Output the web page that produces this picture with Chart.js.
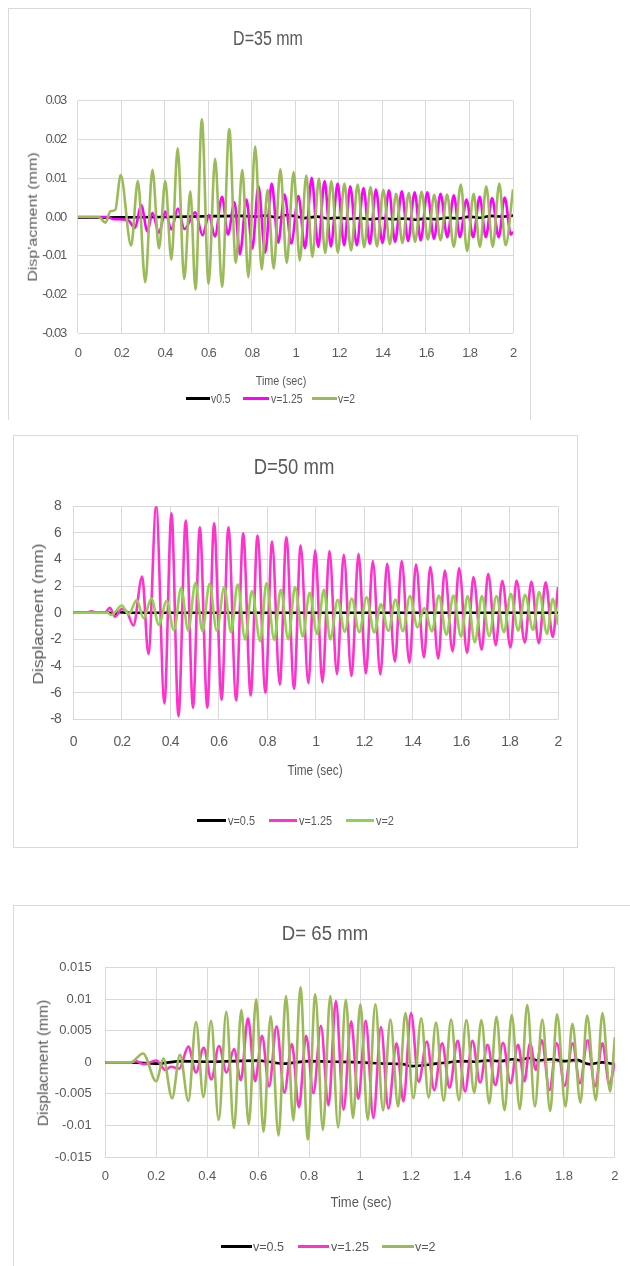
<!DOCTYPE html>
<html><head><meta charset="utf-8">
<script src="https://cdn.jsdelivr.net/npm/chart.js@4"></script>
<style>
html,body{margin:0;padding:0;background:#fff;}
body{width:630px;height:1266px;position:relative;overflow:hidden;font-family:'Liberation Sans',Arial,sans-serif;color:#595959;}
.frame{position:absolute;border:1px solid #d9d9d9;box-sizing:border-box;}
canvas{position:absolute;}
.t{position:absolute;white-space:nowrap;line-height:1;}
.lt{position:absolute;white-space:nowrap;line-height:1;transform-origin:0 50%;}
.ln{position:absolute;height:3px;}
</style></head><body>
<script>
// ---------- shared tick data ----------
const timeTicks = [0, 0.2, 0.4, 0.6, 0.8, 1, 1.2, 1.4, 1.6, 1.8, 2];
const timeTickLabels = ["0", "0.2", "0.4", "0.6", "0.8", "1", "1.2", "1.4", "1.6", "1.8", "2"];
const seriesNames35 = ["v0.5", "v=1.25", "v=2"];
const seriesNames = ["v=0.5", "v=1.25", "v=2"];

// ---------- D = 35 mm ----------
const d35_yTicks = [-0.03, -0.02, -0.01, 0, 0.01, 0.02, 0.03];
const d35_yTickLabels = ["-0.03", "-0.02", "-0.01", "0.00", "0.01", "0.02", "0.03"];
const d35_v05 = [[0,-0.0002],[0.2,-0.0001],[0.4,0],[0.6,0.0002],[0.75,0.0003],[0.82,0.0001],[0.86,0.0004],[0.92,-0.0002],[0.96,0.0005],[1.0,0.0002],[1.04,-0.0003],[1.1,0.0001],[1.15,-0.0004],[1.2,-0.0002],[1.25,-0.0005],[1.3,-0.0003],[1.35,-0.0006],[1.4,-0.0003],[1.45,-0.0006],[1.5,-0.0004],[1.55,-0.0007],[1.6,-0.0004],[1.65,-0.0006],[1.7,-0.0002],[1.75,-0.0004],[1.8,0.0001],[1.85,-0.0002],[1.9,0.0003],[1.95,0.0001],[2.0,0.0004]];
const d35_v125 = [[0,0],[0.14,0],[0.16,-0.0005],[0.23,-0.0008],[0.263,-0.0028],[0.291,0.0031],[0.32,-0.0037],[0.343,0.0011],[0.373,-0.0041],[0.402,0.0014],[0.43,-0.0032],[0.46,0.0022],[0.49,-0.0031],[0.54,0.0012],[0.573,-0.0047],[0.603,0.0005],[0.63,-0.005],[0.663,0.0052],[0.69,-0.0045],[0.72,0.0038],[0.745,-0.0096],[0.775,0.0045],[0.802,-0.0081],[0.83,0.008],[0.861,-0.0092],[0.891,0.0086],[0.921,-0.0066],[0.95,0.0058],[0.981,-0.0068],[1.014,0.0054],[1.044,-0.008],[1.075,0.0101],[1.105,-0.0077],[1.134,0.0093],[1.163,-0.0076],[1.194,0.0086],[1.224,-0.0073],[1.252,0.0079],[1.282,-0.0073],[1.313,0.0075],[1.342,-0.0069],[1.37,0.0071],[1.4,-0.0067],[1.43,0.0069],[1.458,-0.0064],[1.489,0.0066],[1.518,-0.0062],[1.548,0.0064],[1.576,-0.006],[1.606,0.0064],[1.637,-0.0056],[1.667,0.006],[1.698,-0.0052],[1.728,0.0056],[1.756,-0.0052],[1.786,0.0045],[1.817,-0.0052],[1.847,0.0052],[1.875,-0.0052],[1.904,0.0049],[1.934,-0.0052],[1.962,0.005],[1.99,-0.0045],[2.0,-0.0038]];
const d35_v2 = [[0,0],[0.09,0],[0.105,-0.0003],[0.127,-0.0015],[0.15,0.0015],[0.172,0.0018],[0.197,0.0108],[0.245,-0.0074],[0.276,0.0093],[0.31,-0.0168],[0.343,0.0122],[0.373,-0.0081],[0.402,0.0093],[0.43,-0.011],[0.459,0.0177],[0.489,-0.016],[0.517,0.0066],[0.541,-0.0187],[0.570,0.0252],[0.601,-0.0172],[0.631,0.015],[0.663,-0.018],[0.696,0.0227],[0.726,-0.0118],[0.756,0.0121],[0.784,-0.0155],[0.815,0.0182],[0.845,-0.0135],[0.872,0.007],[0.90,-0.0133],[0.931,0.0123],[0.96,-0.0118],[0.992,0.0116],[1.02,-0.0112],[1.05,0.0107],[1.078,-0.0103],[1.108,0.0099],[1.137,-0.0093],[1.165,0.0093],[1.195,-0.0092],[1.225,0.0086],[1.256,-0.0086],[1.286,0.0084],[1.316,-0.0078],[1.345,0.0077],[1.375,-0.0076],[1.404,0.007],[1.434,-0.007],[1.463,0.006],[1.492,-0.0067],[1.521,0.0062],[1.55,-0.0064],[1.58,0.0065],[1.609,-0.0058],[1.638,0.0057],[1.667,-0.006],[1.697,0.0058],[1.728,-0.0077],[1.76,0.0084],[1.789,-0.0088],[1.819,0.006],[1.848,-0.0077],[1.877,0.0079],[1.907,-0.0077],[1.937,0.0086],[1.966,-0.0073],[2.0,0.0071]];

// ---------- D = 50 mm ----------
const d50_yTicks = [-8, -6, -4, -2, 0, 2, 4, 6, 8];
const d50_yTickLabels = ["-8", "-6", "-4", "-2", "0", "2", "4", "6", "8"];
const d50_v05 = [[0,0],[0.15,0],[0.17,-0.12],[0.19,0.05],[0.22,0],[0.6,0],[1.2,0],[2,0]];
const d50_v125 = [[0,0],[0.055,0],[0.075,0.12],[0.095,0],[0.13,0],[0.151,0.38],[0.172,-0.3],[0.2,0.28],[0.222,0.05],[0.248,-0.95],[0.284,2.73],[0.31,-3.1],[0.342,8.0],[0.376,-6.8],[0.405,7.48],[0.434,-7.76],[0.464,6.93],[0.494,-7.13],[0.522,6.43],[0.553,-7.13],[0.581,6.73],[0.612,-6.53],[0.64,6.43],[0.672,-6.58],[0.701,5.98],[0.732,-6.2],[0.76,5.8],[0.793,-6.0],[0.82,5.35],[0.852,-5.38],[0.879,5.68],[0.911,-5.7],[0.938,5.05],[0.97,-5.28],[0.998,4.7],[1.028,-5.22],[1.057,4.63],[1.088,-4.6],[1.116,4.36],[1.148,-4.75],[1.177,4.42],[1.207,-4.55],[1.236,3.88],[1.267,-4.62],[1.295,3.68],[1.327,-3.66],[1.355,3.88],[1.387,-3.74],[1.414,3.63],[1.447,-3.35],[1.473,3.43],[1.506,-3.43],[1.533,3.18],[1.565,-2.9],[1.592,3.36],[1.625,-3.02],[1.651,2.68],[1.685,-2.77],[1.712,2.93],[1.743,-2.43],[1.77,2.4],[1.804,-2.6],[1.829,2.43],[1.863,-2.24],[1.89,2.35],[1.921,-2.28],[1.949,2.3],[1.978,-1.82],[2.0,1.93]];
const d50_v2 = [[0,0],[0.14,0],[0.158,-0.17],[0.2,0.55],[0.228,-0.12],[0.262,0.95],[0.29,-0.4],[0.322,1.07],[0.353,-0.9],[0.385,0.9],[0.415,-1.3],[0.445,1.85],[0.474,-1.32],[0.504,2.23],[0.533,-1.38],[0.562,2.18],[0.592,-1.33],[0.623,1.93],[0.651,-1.45],[0.678,2.13],[0.709,-2.0],[0.737,1.63],[0.771,-2.13],[0.797,2.23],[0.829,-2.03],[0.856,1.73],[0.887,-2.0],[0.915,1.93],[0.947,-1.78],[0.975,1.5],[1.006,-1.58],[1.034,1.72],[1.06,-2.0],[1.091,0.97],[1.12,-1.42],[1.149,1.07],[1.18,-1.45],[1.21,1.17],[1.242,-1.48],[1.269,0.63],[1.3,-1.35],[1.329,0.97],[1.36,-1.38],[1.389,1.25],[1.42,-1.1],[1.448,0.35],[1.48,-1.4],[1.508,1.3],[1.54,-1.65],[1.568,1.3],[1.6,-1.78],[1.627,1.25],[1.657,-2.22],[1.686,1.25],[1.716,-1.75],[1.746,1.25],[1.777,-1.45],[1.805,1.43],[1.836,-1.33],[1.864,1.35],[1.897,-1.28],[1.922,1.55],[1.955,-1.58],[1.978,1.05],[2.0,-0.9]];

// ---------- D = 65 mm ----------
const d65_yTicks = [-0.015, -0.01, -0.005, 0, 0.005, 0.01, 0.015];
const d65_yTickLabels = ["-0.015", "-0.01", "-0.005", "0", "0.005", "0.01", "0.015"];
const d65_v05 = [[0,0],[0.1,0],[0.2,-0.0002],[0.3,0.0002],[0.4,0.0001],[0.5,0.0002],[0.6,0.0003],[0.7,-0.0002],[0.8,0.0002],[0.9,0.0001],[1.0,0],[1.1,-0.0002],[1.17,-0.0003],[1.2,-0.0006],[1.24,-0.0005],[1.3,-0.0002],[1.35,0],[1.4,0.0002],[1.45,0.0001],[1.5,0.0003],[1.55,0.0002],[1.6,0.0005],[1.63,0.0003],[1.66,0.0007],[1.7,0.0003],[1.75,0.0005],[1.8,0.0002],[1.85,0.0004],[1.9,-0.0003],[1.95,0],[2.0,-0.0003]];
const d65_v125 = [[0,0],[0.1,0],[0.12,0.0002],[0.15,-0.0003],[0.2,0.0003],[0.236,-0.0012],[0.258,-0.0007],[0.29,-0.001],[0.326,0.0025],[0.356,-0.0016],[0.386,0.0023],[0.416,-0.0027],[0.446,0.0026],[0.476,-0.0016],[0.505,0.0021],[0.532,-0.0028],[0.56,0.007],[0.588,-0.003],[0.615,0.0042],[0.643,-0.0038],[0.672,0.0057],[0.703,-0.0048],[0.732,0.0029],[0.76,-0.0071],[0.788,0.0042],[0.817,-0.0049],[0.846,0.0058],[0.876,-0.0068],[0.905,0.0097],[0.935,-0.0075],[0.965,0.0065],[0.993,-0.0058],[1.022,0.0066],[1.052,-0.0088],[1.082,0.0056],[1.111,-0.0073],[1.143,0.003],[1.17,-0.0062],[1.2,0.0078],[1.23,-0.0031],[1.262,0.0033],[1.291,-0.0044],[1.322,0.003],[1.351,-0.004],[1.383,0.0034],[1.412,-0.0046],[1.441,0.0034],[1.471,-0.0032],[1.5,0.0028],[1.531,-0.0036],[1.561,0.0031],[1.59,-0.0033],[1.62,0.0028],[1.645,-0.003],[1.667,0.003],[1.69,-0.0012],[1.713,0.0035],[1.743,-0.0044],[1.772,0.003],[1.803,-0.0037],[1.834,0.003],[1.863,-0.0033],[1.893,0.0035],[1.922,-0.0038],[1.951,0.003],[1.978,-0.0035],[2.0,0.0]];
const d65_v2 = [[0,0],[0.1,0],[0.148,0.0014],[0.2,-0.003],[0.228,0.0006],[0.262,-0.0057],[0.293,0.0012],[0.326,-0.0061],[0.356,0.0064],[0.385,-0.0055],[0.415,0.0066],[0.445,-0.0091],[0.475,0.008],[0.505,-0.0104],[0.534,0.0083],[0.563,-0.0098],[0.592,0.01],[0.621,-0.011],[0.649,0.0073],[0.68,-0.0116],[0.709,0.0105],[0.738,-0.0092],[0.766,0.0119],[0.795,-0.0122],[0.824,0.0108],[0.854,-0.0107],[0.883,0.0105],[0.914,-0.0103],[0.944,0.0099],[0.972,-0.0088],[1.001,0.0092],[1.03,-0.0091],[1.06,0.0092],[1.09,-0.0076],[1.119,0.0068],[1.149,-0.007],[1.178,0.0078],[1.209,-0.0057],[1.24,0.007],[1.269,-0.0056],[1.298,0.0063],[1.328,-0.0061],[1.357,0.0068],[1.388,-0.006],[1.417,0.0067],[1.448,-0.0048],[1.476,0.0067],[1.507,-0.0065],[1.535,0.0072],[1.567,-0.0076],[1.595,0.0075],[1.627,-0.0074],[1.656,0.0091],[1.686,-0.007],[1.715,0.0068],[1.746,-0.0077],[1.773,0.0076],[1.806,-0.007],[1.833,0.0061],[1.865,-0.0064],[1.891,0.0074],[1.925,-0.006],[1.951,0.0078],[1.981,-0.0046],[2.0,0.004]];

// ---------- layout (positions / styles) ----------
const FONT = "'Liberation Sans', Arial, sans-serif";
const panels = [
  { frame:{l:8,t:8,w:523,h:412,sides:'ltr'}, canvas:{l:8,t:8,w:523,h:412},
    plot:{l:77.8,t:100.7,r:513,b:333.3}, yPad:11.8, xPad:12, tickSize:13, tickLS:-1.2,
    yMin:-0.03, yMax:0.03, yTicks:d35_yTicks, yLabels:d35_yTickLabels,
    series:[d35_v05,d35_v125,d35_v2], names:seriesNames35,
    colors:['#000000','#FF00FF','#9BBB59'], lw:2.6, sx:0.8,
    title:{txt:'D=35 mm',x:268,y:37.5,s:20},
    ytitle:{txt:"Disp'acment (mm)",x:33,y:217,s:16},
    xtitle:{txt:'Time (sec)',x:281,y:381,s:13.5},
    legend:{y:398,s:13,lines:[[186,210],[243,269],[312,337]],texts:[211,271,338]} },
  { frame:{l:13,t:434.7,w:565,h:413.3,sides:'ltrb'}, canvas:{l:13,t:434.7,w:565,h:413.3},
    plot:{l:73.3,t:506,r:558,b:719.3}, yPad:12.5, xPad:14, tickSize:14, tickLS:-0.9,
    yMin:-8, yMax:8, yTicks:d50_yTicks, yLabels:d50_yTickLabels,
    series:[d50_v05,d50_v125,d50_v2], names:seriesNames,
    colors:['#000000','#FF33CC','#92D050'], lw:2.6, sx:0.84,
    title:{txt:'D=50 mm',x:294,y:466.7,s:22},
    ytitle:{txt:'Displacment (mm)',x:39.3,y:614,s:17.4},
    xtitle:{txt:'Time (sec)',x:315,y:770,s:14},
    legend:{y:820,s:13,lines:[[197,225.5],[269,297],[346,374]],texts:[228,299,376]} },
  { frame:{l:13,t:905,w:640,h:400,sides:'lt'}, canvas:{l:13,t:905,w:617,h:361},
    plot:{l:105.3,t:967.7,r:619.3,b:1157}, yPad:13.6, xPad:11.5, tickSize:13, tickLS:0,
    yMin:-0.015, yMax:0.015, yTicks:d65_yTicks, yLabels:d65_yTickLabels,
    series:[d65_v05,d65_v125,d65_v2], names:seriesNames,
    colors:['#000000','#FF33CC','#9BBB59'], lw:2.6, sx:0.93,
    title:{txt:'D= 65 mm',x:324.5,y:933,s:20},
    ytitle:{txt:'Displacment (mm)',x:42.7,y:1063,s:15.6},
    xtitle:{txt:'Time (sec)',x:361.4,y:1202,s:14},
    legend:{y:1246.7,s:13.5,lines:[[221,252],[298,329],[382,414]],texts:[253,331,415]} }
];

function addText(o, transform) {
  const d = document.createElement('div');
  d.className = 't';
  d.textContent = o.txt;
  d.style.left = o.x + 'px'; d.style.top = o.y + 'px';
  d.style.fontSize = o.s + 'px';
  d.style.transform = transform;
  document.body.appendChild(d);
  return d;
}

panels.forEach((p) => {
  const f = document.createElement('div');
  f.className = 'frame';
  Object.assign(f.style, {left:p.frame.l+'px', top:p.frame.t+'px', width:p.frame.w+'px', height:p.frame.h+'px'});
  if (!p.frame.sides.includes('b')) f.style.borderBottom = 'none';
  if (!p.frame.sides.includes('r')) f.style.borderRight = 'none';
  document.body.appendChild(f);

  const cv = document.createElement('canvas');
  cv.width = p.canvas.w; cv.height = p.canvas.h;
  Object.assign(cv.style, {left:p.canvas.l+'px', top:p.canvas.t+'px', width:p.canvas.w+'px', height:p.canvas.h+'px'});
  document.body.appendChild(cv);

  const c = p.canvas, pl = p.plot;
  const yW = pl.l - c.l;
  const xH = 30;
  const padTop = pl.t - c.t;
  const padRight = (c.l + c.w) - pl.r;
  const padBottom = (c.t + c.h) - pl.b - xH;
  const tickFont = {family: FONT, size: p.tickSize};

  new Chart(cv, {
    type: 'line',
    data: {
      datasets: p.series.map((s, i) => ({
        label: p.names[i],
        data: s.map(d => ({x: d[0], y: d[1]})),
        borderColor: p.colors[i],
        backgroundColor: p.colors[i],
        borderWidth: p.lw,
        pointRadius: 0,
        fill: false,
        cubicInterpolationMode: 'monotone',
        order: 3 - i
      }))
    },
    options: {
      responsive: false, animation: false, devicePixelRatio: 1,
      layout: {padding: {left: 0, top: padTop, right: padRight, bottom: padBottom}},
      plugins: {legend: {display: false}, title: {display: false}, tooltip: {enabled: false}},
      scales: {
        x: {
          type: 'linear', min: 0, max: 2,
          afterBuildTicks: s => { s.ticks = timeTicks.map(v => ({value: v})); },
          afterFit: s => { s.height = xH; },
          ticks: {callback: (v, i) => timeTickLabels[i], autoSkip: false, maxRotation: 0, padding: p.xPad, color: '#595959', font: tickFont},
          grid: {color: '#d9d9d9', lineWidth: 1, drawTicks: false},
          border: {display: false}
        },
        y: {
          type: 'linear', min: p.yMin, max: p.yMax,
          afterBuildTicks: s => { s.ticks = p.yTicks.map(v => ({value: v})); },
          afterFit: s => { s.width = yW; },
          ticks: {callback: (v, i) => p.yLabels[i], autoSkip: false, padding: p.yPad, color: '#595959', font: tickFont},
          grid: {color: '#d9d9d9', lineWidth: 1, drawTicks: false},
          border: {display: false}
        }
      }
    },
    plugins: [{
      id: 'narrowTicks',
      beforeDraw: (chart) => { if ('letterSpacing' in chart.ctx) chart.ctx.letterSpacing = p.tickLS + 'px'; }
    }]
  });

  addText(p.title, `translate(-50%,-50%) scaleX(${p.sx})`);
  addText(p.ytitle, `translate(-50%,-50%) rotate(-90deg) scaleY(${p.sx})`);
  addText(p.xtitle, `translate(-50%,-50%) scaleX(${p.sx})`);

  p.names.forEach((n, i) => {
    const [x0, x1] = p.legend.lines[i];
    const ln = document.createElement('div');
    ln.className = 'ln';
    Object.assign(ln.style, {left: x0+'px', width: (x1-x0)+'px', top: (p.legend.y-1.5)+'px', background: p.colors[i]});
    document.body.appendChild(ln);
    const tx = document.createElement('div');
    tx.className = 'lt';
    tx.textContent = n;
    Object.assign(tx.style, {left: p.legend.texts[i]+'px', top: p.legend.y+'px', fontSize: p.legend.s+'px', transform: `translateY(-50%) scaleX(${p.sx})`});
    document.body.appendChild(tx);
  });
});
</script>
</body></html>
